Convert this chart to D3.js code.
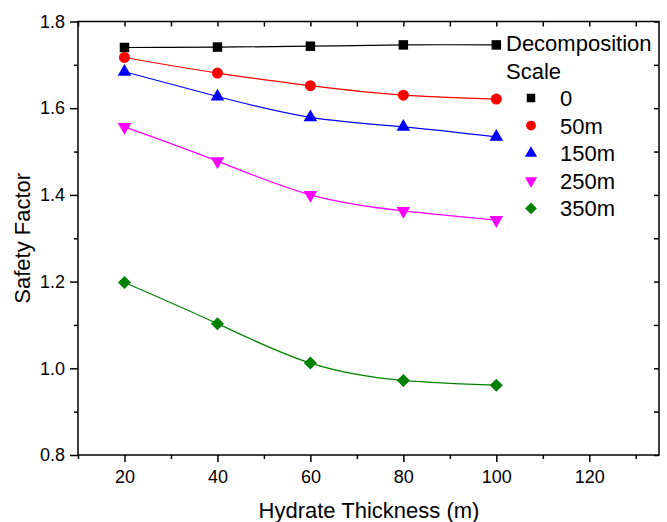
<!DOCTYPE html>
<html>
<head>
<meta charset="utf-8">
<script src="https://cdn.jsdelivr.net/npm/d3@7"></script>
<style>
  body { margin: 0; background: #fff; }
  svg text { font-family: "Liberation Sans", Arial, Helvetica, sans-serif; fill: #000; }
</style>
</head>
<body>
<svg id="chart" width="667" height="522"></svg>
<script>
// data
const thickness = [20, 40, 60, 80, 100];
const scaleLabels = ['0', '50m', '150m', '250m', '350m'];
const colors = ['#000000', '#ff0000', '#0000ff', '#ff00ff', '#008000'];
const s0 = [1.740, 1.741, 1.743, 1.746, 1.746];
const s50 = [1.717, 1.681, 1.652, 1.630, 1.621];
const s150 = [1.684, 1.627, 1.579, 1.557, 1.534];
const s250 = [1.557, 1.478, 1.400, 1.363, 1.342];
const s350 = [1.198, 1.103, 1.012, 0.972, 0.961];
const seriesValues = [s0, s50, s150, s250, s350];
const xTicks = [20, 40, 60, 80, 100, 120];
const yTicks = [0.8, 1.0, 1.2, 1.4, 1.6, 1.8];

const svg = d3.select('#chart');
const margin = {left: 78, right: 8, top: 21.5, bottom: 67};
const W = 667, H = 522;

const x = d3.scaleLinear().domain([10, 135]).range([margin.left, W - margin.right]);
const y = d3.scaleLinear().domain([0.8, 1.8]).range([H - margin.bottom, margin.top]);

// frame
svg.append('rect')
    .attr('x', x(10)).attr('y', y(1.8))
    .attr('width', x(135) - x(10)).attr('height', y(0.8) - y(1.8))
    .attr('fill', 'none').attr('stroke', '#000').attr('stroke-width', 1.5);

const minorX = d3.range(10, 135, 10).filter(v => v % 20 !== 0);
const minorY = d3.range(0.9, 1.8, 0.2);

// bottom axis
const bottom = svg.append('g').attr('transform', `translate(0,${y(0.8)})`);
bottom.call(d3.axisBottom(x).tickValues(xTicks).tickSize(7).tickPadding(8).tickFormat(d3.format('d')));
bottom.append('g').call(d3.axisBottom(x).tickValues(minorX).tickSize(4).tickFormat(''));

// left axis
const left = svg.append('g').attr('transform', `translate(${x(10)},0)`);
left.call(d3.axisLeft(y).tickValues(yTicks).tickSize(8).tickPadding(5).tickFormat(d3.format('.1f')));
left.append('g').call(d3.axisLeft(y).tickValues(minorY).tickSize(4).tickFormat(''));

// top and right: inward ticks
svg.append('g').attr('transform', `translate(0,${y(1.8)})`)
    .call(d3.axisBottom(x).tickValues(xTicks.concat(minorX)).tickSize(5).tickFormat(''));
svg.append('g').attr('transform', `translate(${x(135)},0)`)
    .call(d3.axisLeft(y).tickValues(yTicks.concat(minorY)).tickSize(5).tickFormat(''));

svg.selectAll('.domain').remove();
svg.selectAll('.tick line').attr('stroke', '#000').attr('stroke-width', 1.5);
svg.selectAll('.tick text').style('font-size', '18px');

// titles
svg.append('text')
    .attr('x', 369).attr('y', 518)
    .attr('text-anchor', 'middle')
    .style('font-size', '22px')
    .text('Hydrate Thickness (m)');
svg.append('text')
    .attr('transform', `translate(30,${(y(0.8) + y(1.8)) / 2}) rotate(-90)`)
    .attr('text-anchor', 'middle')
    .style('font-size', '22px')
    .text('Safety Factor');

// markers
const symbols = [
    {type: d3.symbolSquare, size: 90, rot: 0},
    {type: d3.symbolCircle, size: 95, rot: 0},
    {type: d3.symbolTriangle, size: 80, rot: 0},
    {type: d3.symbolTriangle, size: 80, rot: 180},
    {type: d3.symbolSquare, size: 85, rot: 45}
];

const line = d3.line()
    .x(d => x(d[0]))
    .y(d => y(d[1]))
    .curve(d3.curveNatural);

seriesValues.forEach((vals, i) => {
    const pts = thickness.map((t, j) => [t, vals[j]]);
    svg.append('path')
        .datum(pts)
        .attr('d', line)
        .attr('fill', 'none')
        .attr('stroke', colors[i])
        .attr('stroke-width', 1.2);
    const sym = d3.symbol().type(symbols[i].type).size(symbols[i].size);
    svg.append('g').selectAll('path')
        .data(pts)
        .join('path')
        .attr('d', sym)
        .attr('transform', d => `translate(${x(d[0])},${y(d[1])}) rotate(${symbols[i].rot})`)
        .attr('fill', colors[i]);
});

// legend
const lg = svg.append('g');
lg.append('text').attr('x', 506).attr('y', 51).style('font-size', '22px').text('Decomposition');
lg.append('text').attr('x', 506).attr('y', 79).style('font-size', '22px').text('Scale');
scaleLabels.forEach((lab, i) => {
    const cy = 98 + i * 27.6;
    const sym = d3.symbol().type(symbols[i].type).size(symbols[i].size * 0.8);
    lg.append('path')
        .attr('d', sym)
        .attr('transform', `translate(531,${cy}) rotate(${symbols[i].rot})`)
        .attr('fill', colors[i]);
    lg.append('text')
        .attr('x', 560).attr('y', cy + 8)
        .style('font-size', '22px')
        .text(lab);
});
</script>
</body>
</html>
